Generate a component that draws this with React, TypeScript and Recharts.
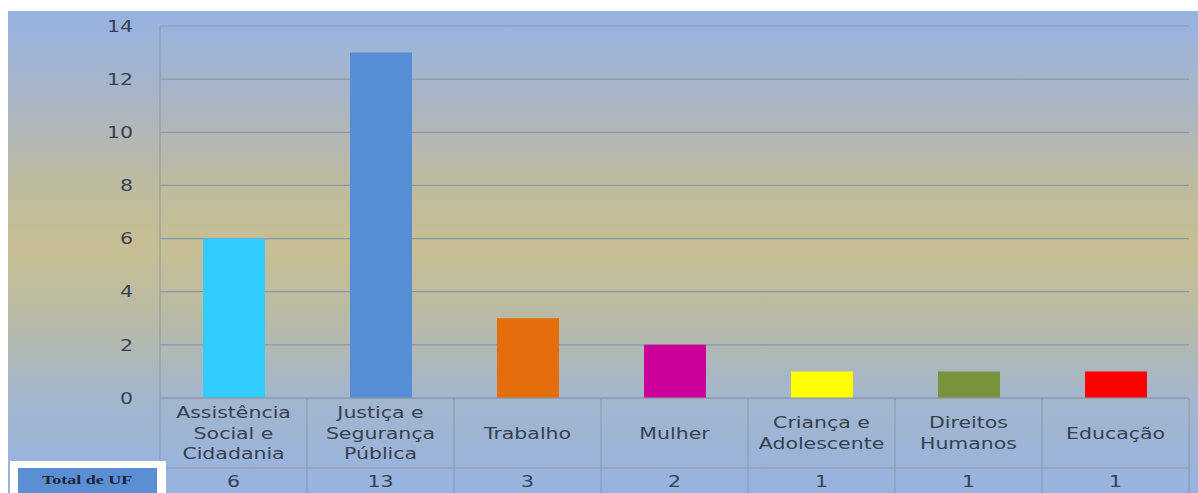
import React from 'react';
import { BarChart, Bar, XAxis, YAxis, CartesianGrid, Cell } from 'recharts';

const categories = [
  'Assistência\nSocial e\nCidadania',
  'Justiça e\nSegurança\nPública',
  'Trabalho',
  'Mulher',
  'Criança e\nAdolescente',
  'Direitos\nHumanos',
  'Educação',
];
const totals = [6, 13, 3, 2, 1, 1, 1];
const yTicks = [0, 2, 4, 6, 8, 10, 12, 14];
const rowLabel = 'Total de UF';

const barColors = ['#33ccff', '#558ed5', '#e46c0a', '#cc0099', '#ffff00', '#77933c', '#ff0000'];

const data = categories.map((name, i) => ({ name, total: totals[i] }));

const W = 1190;
const H = 482;
const LEFT = 152;
const RIGHT = 9;
const TOP = 15;
const AXIS_H = 95;
const BAND = (W - LEFT - RIGHT) / categories.length;
const LINE = '#8a97a8';
const TEXT = '#37414f';
const FONT = '"DejaVu Sans", sans-serif';
const FS = 16;
const STRETCH = 1.28;

// stretched text, the original picture is wider than it is tall
const Wide = ({ x, y, anchor = 'middle', children }: any) => (
  <text
    transform={`translate(${x},${y}) scale(${STRETCH},1)`}
    textAnchor={anchor}
    dominantBaseline="central"
    fontSize={FS}
    fill={TEXT}
    fontFamily={FONT}
  >
    {children}
  </text>
);

const TableTick = (props: any) => {
  const { x, y, payload, index } = props;
  const lines = String(payload.value).split('\n');
  const labelMid = y + 35;
  const lh = 20.5;
  const start = labelMid - ((lines.length - 1) * lh) / 2;
  const last = index === categories.length - 1;
  return (
    <g>
      <line x1={x - BAND / 2} x2={x - BAND / 2} y1={y} y2={y + AXIS_H} stroke={LINE} />
      {last && <line x1={x + BAND / 2} x2={x + BAND / 2} y1={y} y2={y + AXIS_H} stroke={LINE} />}
      <line x1={x - BAND / 2} x2={x + BAND / 2} y1={y + 70} y2={y + 70} stroke={LINE} />
      {lines.map((l, i) => (
        <Wide key={i} x={x} y={start + i * lh}>
          {l}
        </Wide>
      ))}
      <Wide x={x} y={y + 83}>
        {totals[index]}
      </Wide>
    </g>
  );
};

const ValueTick = (props: any) => {
  const { x, y, payload } = props;
  return (
    <Wide x={x} y={y} anchor="end">
      {payload.value}
    </Wide>
  );
};

export default function App() {
  return (
    <div
      style={{
        position: 'absolute',
        left: 8,
        top: 11,
        width: W,
        height: H,
        background:
          'linear-gradient(to bottom, #97b3e2 0%, #a9b5c6 18%, #bdbb9f 36%, #c7bf92 49%, #b7baa8 65%, #a3b6cc 80%, #96b3e1 100%)',
      }}
    >
      <BarChart width={W} height={H} data={data} margin={{ top: TOP, right: RIGHT, left: 0, bottom: 0 }}>
        <CartesianGrid vertical={false} stroke={LINE} strokeWidth={1.2} />
        <XAxis
          dataKey="name"
          height={AXIS_H}
          interval={0}
          tickSize={0}
          tickMargin={0}
          tickLine={false}
          axisLine={{ stroke: LINE }}
          tick={<TableTick />}
        />
        <YAxis
          width={LEFT}
          domain={[0, 14]}
          ticks={yTicks}
          tickSize={0}
          tickMargin={27}
          tickLine={false}
          axisLine={{ stroke: LINE }}
          tick={<ValueTick />}
        />
        <Bar dataKey="total" barSize={62} isAnimationActive={false}>
          {data.map((d, i) => (
            <Cell key={d.name} fill={barColors[i]} />
          ))}
        </Bar>
      </BarChart>
      <div
        style={{
          position: 'absolute',
          left: 2,
          top: 450,
          width: 156,
          height: 32,
          background: '#ffffff',
        }}
      >
        <div
          style={{
            position: 'absolute',
            left: 8,
            top: 7,
            width: 139,
            height: 25,
            background: '#5b8ed3',
            display: 'flex',
            alignItems: 'center',
            justifyContent: 'center',
            fontFamily: '"Liberation Serif", serif',
            fontWeight: 'bold',
            fontSize: 12,
            color: '#1a2738',
          }}
        >
          <span style={{ display: 'inline-block', transform: 'scaleX(1.5)' }}>{rowLabel}</span>
        </div>
      </div>
    </div>
  );
}
